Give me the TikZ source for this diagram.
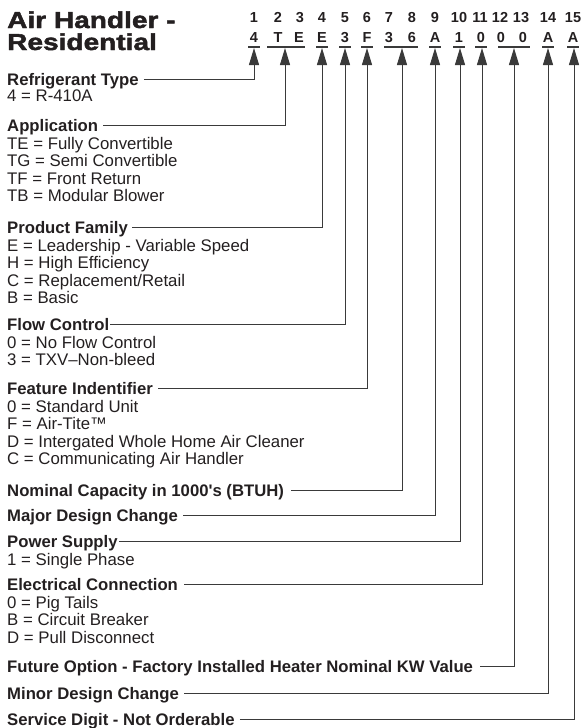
\documentclass[tikz,border=0pt]{standalone}
\usepackage{fontspec}
\setmainfont{Liberation Sans}
\newfontfamily\titlefont[FakeBold=2,FakeStretch=1.22]{Liberation Sans Bold}
\usetikzlibrary{arrows.meta}
\definecolor{ink}{HTML}{231F20}
\definecolor{linec}{HTML}{3A3A3A}
\begin{document}
\begin{tikzpicture}[x=1pt,y=-1pt,
  txt/.style={inner sep=0pt, anchor=base west, text=ink, font=\fontsize{16.8}{18}\selectfont},
  head/.style={txt, font=\fontsize{16.7}{18}\selectfont\bfseries},
  ttl/.style={inner sep=0pt, anchor=base west, text=ink, font=\fontsize{23}{25}\titlefont},
  num/.style={inner sep=0pt, anchor=base, text=ink, font=\fontsize{14.5}{16}\selectfont\bfseries},
  conn/.style={draw=linec, line width=1pt, -{Triangle[length=17pt,width=10pt]}},
  uline/.style={draw=linec, line width=1.2pt}]
\useasboundingbox (0,0) rectangle (584,728);
% title
\node[ttl] (t1) at (7,28) {Air Handler -};
\node[ttl] (t2) at (7,50) {Residential};
% digit numbers
\foreach \i/\x in {1/254,2/278,3/300,4/322,5/345,6/367,7/389,8/412,9/435,10/459,11/480,12/500,13/521,14/548,15/573}
  \node[num] (n\i) at (\x,22) {\i};
% code letters
\foreach \i/\x/\c in {1/254/4,2/278/T,3/299/E,4/322/E,5/345/3,6/367/F,7/389/3,8/412/6,9/435/A,10/459/1,11/481/0,12/501/0,13/523/0,14/548/A,15/573/A}
  \node[num] (c\i) at (\x,42) {\c};
% underlines
\foreach \a/\b in {248/260,267/305,316/328,339/351,361/373,384/418,429/441,453/465,475/487,498/530,542/554,567/579}
  \draw[uline] (\a,47) -- (\b,47);
% arrow tips
\foreach \k/\x in {1/254,2/285,3/322,4/345,5/367,6/402,7/435,8/460,9/482,10/514,11/548,12/574}
  \coordinate (tip\k) at (\x,48);
% headings and items
\node[head] (h1) at (7,85) {Refrigerant Type};
\node[txt] (h1a) at (7,101) {4 = R-410A};
\node[head] (h2) at (7,131) {Application};
\node[txt] (h2a) at (7,149) {TE = Fully Convertible};
\node[txt] (h2b) at (7,166.6) {TG = Semi Convertible};
\node[txt] (h2c) at (7,184.2) {TF = Front Return};
\node[txt] (h2d) at (7,201.8) {TB = Modular Blower};
\node[head] (h3) at (7,233) {Product Family};
\node[txt] (h3a) at (7,251) {E = Leadership - Variable Speed};
\node[txt] (h3b) at (7,268.6) {H = High Efficiency};
\node[txt] (h3c) at (7,286.2) {C = Replacement/Retail};
\node[txt] (h3d) at (7,303.8) {B = Basic};
\node[head] (h4) at (7,330) {Flow Control};
\node[txt] (h4a) at (7,348) {0 = No Flow Control};
\node[txt] (h4b) at (7,365.6) {3 = TXV--Non-bleed};
\node[head] (h5) at (7,394) {Feature Indentifier};
\node[txt] (h5a) at (7,412) {0 = Standard Unit};
\node[txt] (h5b) at (7,429.6) {F = Air-Tite™};
\node[txt] (h5c) at (7,447.2) {D = Intergated Whole Home Air Cleaner};
\node[txt] (h5d) at (7,464.8) {C = Communicating Air Handler};
\node[head] (h6) at (7,496) {Nominal Capacity in 1000\textquotesingle s (BTUH)};
\node[head] (h7) at (7,521) {Major Design Change};
\node[head] (h8) at (7,547) {Power Supply};
\node[txt] (h8a) at (7,565) {1 = Single Phase};
\node[head] (h9) at (7,590) {Electrical Connection};
\node[txt] (h9a) at (7,608) {0 = Pig Tails};
\node[txt] (h9b) at (7,625.6) {B = Circuit Breaker};
\node[txt] (h9c) at (7,643.2) {D = Pull Disconnect};
\node[head] (h10) at (7,672) {Future Option - Factory Installed Heater Nominal KW Value};
\node[head] (h11) at (7,699) {Minor Design Change};
\node[head] (h12) at (7,725.5) {Service Digit - Not Orderable};
% connectors
\foreach \k/\g in {1/5,2/5,3/4,4/1,5/5,6/7,7/5,8/1,9/6,10/7,11/5,12/5}
  \draw[conn] ([xshift=\g pt,yshift=6pt]h\k.base east) -| (tip\k);
\end{tikzpicture}
\end{document}
